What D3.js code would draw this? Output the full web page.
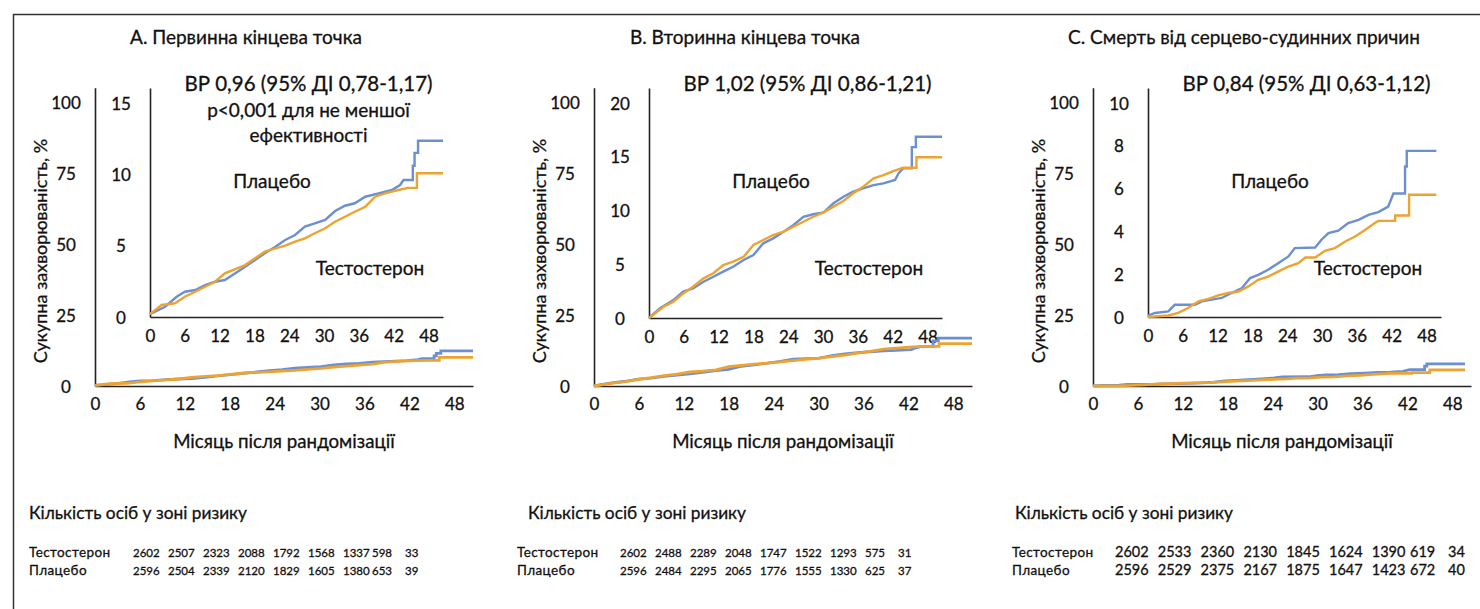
<!DOCTYPE html>
<html><head><meta charset="utf-8">
<script src="https://cdn.jsdelivr.net/npm/d3@7"></script>
<style>
body{margin:0;background:#fff}
text{font-family:Lato,'Noto Sans',sans-serif;fill:#111;stroke:#111;stroke-width:0.3px}
</style>
</head><body>
<svg id="chart" width="1480" height="609"></svg>
<script>
// ---------- DATA ----------
const monthTicks = [0, 6, 12, 18, 24, 30, 36, 42, 48];
const mainYTicks = [0, 25, 50, 75, 100];
const insetYTicks = [[0, 5, 10, 15], [0, 5, 10, 15, 20], [0, 2, 4, 6, 8, 10]];
const insetYMax = [16.05, 21.4, 10.7];
const panelTitles = ["А. Первинна кінцева точка", "В. Вторинна кінцева точка", "С. Смерть від серцево-судинних причин"];
const hrLines = [
  ["ВР 0,96 (95% ДІ 0,78-1,17)", "p<0,001 для не меншої", "ефективності"],
  ["ВР 1,02 (95% ДІ 0,86-1,21)"],
  ["ВР 0,84 (95% ДІ 0,63-1,12)"]
];
const seriesNames = ["Плацебо", "Тестостерон"];
const yLabel = "Сукупна захворюваність, %";
const xLabel = "Місяць після рандомізації";
const riskTitle = "Кількість осіб у зоні ризику";
const riskTesto = [
  [2602, 2507, 2323, 2088, 1792, 1568, 1337, 598, 33],
  [2602, 2488, 2289, 2048, 1747, 1522, 1293, 575, 31],
  [2602, 2533, 2360, 2130, 1845, 1624, 1390, 619, 34]
];
const riskPlacebo = [
  [2596, 2504, 2339, 2120, 1829, 1605, 1380, 653, 39],
  [2596, 2484, 2295, 2065, 1776, 1555, 1330, 625, 37],
  [2596, 2529, 2375, 2167, 1875, 1647, 1423, 672, 40]
];
// cumulative incidence (%) vs month
const placeboA = [[0,0.2],[2.6,0.72],[4.6,1.42],[6.0,1.77],[7.8,1.89],[9.5,2.24],[11.2,2.47],[12.9,2.59],[14.7,3.06],[16.4,3.53],[18.1,4.0],[19.8,4.46],[21.6,4.93],[23.3,5.4],[25.0,5.75],[26.7,6.33],[28.4,6.56],[30.2,6.8],[31.9,7.43],[33.6,7.8],[35.3,7.97],[37.1,8.43],[39.4,8.67],[41.7,8.9],[43.1,9.25],[43.7,9.6],[45.3,9.6],[45.3,10.6],[45.6,10.6],[45.6,11.5],[46.2,11.5],[46.2,12.35],[50.5,12.35]];
const testoA = [[0,0.2],[2.0,0.84],[4.3,0.96],[6.0,1.42],[7.8,1.77],[9.5,2.12],[11.2,2.47],[12.9,3.06],[14.7,3.36],[16.4,3.64],[18.1,4.11],[19.8,4.58],[21.6,4.81],[23.3,5.0],[25.0,5.28],[26.7,5.51],[28.4,5.87],[30.2,6.22],[31.9,6.68],[33.6,7.03],[35.3,7.38],[37.1,7.73],[38.8,8.43],[40.5,8.67],[42.8,8.9],[44.5,9.05],[46.0,9.05],[46.0,10.07],[50.5,10.07]];
const placeboB = [[0,0],[1.9,0.9],[4.2,1.67],[5.9,2.45],[7.6,2.76],[9.4,3.38],[11.1,3.84],[12.8,4.31],[14.5,4.77],[16.3,5.4],[18.0,5.86],[19.7,6.95],[21.4,7.41],[23.2,8.03],[24.9,8.65],[26.6,9.42],[28.3,9.65],[30.1,9.83],[31.8,10.67],[33.5,11.28],[35.2,11.75],[36.9,12.06],[38.7,12.37],[40.4,12.53],[42.4,12.84],[43.0,13.46],[43.8,13.92],[45.3,13.92],[45.3,15.9],[46.0,15.9],[46.0,16.87],[50.5,16.87]];
const testoB = [[0,0],[2.5,1.05],[4.2,1.52],[5.9,2.29],[7.6,2.91],[9.4,3.69],[11.1,4.16],[12.8,4.93],[14.5,5.24],[16.3,5.7],[18.0,6.79],[19.7,7.26],[21.4,7.72],[23.2,8.03],[24.9,8.49],[26.6,8.96],[28.3,9.42],[30.1,9.83],[31.8,10.36],[33.5,10.88],[35.2,11.6],[36.9,12.2],[38.7,13.0],[40.4,13.3],[42.1,13.67],[43.8,13.98],[46.1,13.98],[46.1,14.95],[50.5,14.95]];
const placeboC = [[0,0.07],[1.2,0.19],[3.5,0.26],[4.6,0.57],[8.1,0.57],[9.3,0.73],[11.0,0.81],[12.7,0.89],[14.4,1.12],[16.2,1.35],[17.6,1.82],[19.0,1.97],[20.7,2.21],[22.5,2.52],[24.2,2.83],[25.3,3.22],[28.8,3.25],[29.9,3.61],[31.1,3.92],[32.8,4.03],[34.5,4.39],[36.3,4.54],[38.0,4.77],[39.7,4.9],[41.4,5.16],[42.3,5.77],[44.3,5.77],[44.3,7.03],[44.6,7.03],[44.6,7.76],[49.7,7.76]];
const testoC = [[0,0],[3.5,0.07],[5.2,0.19],[6.9,0.42],[8.7,0.73],[10.4,0.85],[12.1,1.01],[13.8,1.12],[15.6,1.19],[17.3,1.43],[19.0,1.74],[20.7,1.89],[22.5,2.13],[24.2,2.36],[25.9,2.52],[27.1,2.78],[28.8,2.78],[30.5,3.09],[32.2,3.22],[34.0,3.53],[35.7,3.76],[37.4,4.07],[39.1,4.39],[39.7,4.49],[42.6,4.49],[42.6,4.74],[45.0,4.74],[45.0,5.71],[49.7,5.71]];
const placeboSeries = [placeboA, placeboB, placeboC];
const testoSeries = [testoA, testoB, testoC];

// ---------- STYLE / LAYOUT ----------
const COLORS = {placebo: "#6b8fd2", testo: "#eca332", axis: "#222"};
const panelDX = [0, 499, 998];
const riskHeadX = [29, 29, 17];
const riskLabelX = [29, 18, 14];
const riskCols = [
  {start: 133, step: 35, c8: 372, c9: 405, fs: 11.5},
  {start: 121, step: 35, c8: 366, c9: 399, fs: 11.5},
  {start: 117, step: 42.8, c8: 412, c9: 450, fs: 14.5}
];

const svg = d3.select("#chart");
svg.append("rect").attr("x", 13.5).attr("y", 14.5).attr("width", 1600).attr("height", 800)
  .attr("fill", "none").attr("stroke", "#333").attr("stroke-width", 1.5);

function styleAxis(g) {
  g.select(".domain").attr("stroke", COLORS.axis).attr("stroke-width", 1.6);
  g.selectAll(".tick line").remove();
  g.selectAll(".tick text").attr("font-size", 17).attr("fill", "#111")
    .style("font-family", "Lato, 'Noto Sans', sans-serif");
}

for (let i = 0; i < 3; i++) {
  const dx = panelDX[i];
  const g = svg.append("g");

  // main chart scales
  const xMain = d3.scaleLinear().domain([0, 50.5]).range([95 + dx, 473 + dx]);
  const yMain = d3.scaleLinear().domain([0, 105]).range([386, 87.8]);
  // inset scales
  const xIn = d3.scaleLinear().domain([0, 50.5]).range([150 + dx, 443 + dx]);
  const yIn = d3.scaleLinear().domain([0, insetYMax[i]]).range([317 + (i === 1 ? 1 : 0), 88]);

  // main axes
  const gy = g.append("g").attr("transform", `translate(${95 + dx},0)`)
    .call(d3.axisLeft(yMain).tickValues(mainYTicks).tickSize(0).tickSizeOuter(0));
  styleAxis(gy);
  gy.selectAll(".tick text").attr("text-anchor", "middle").attr("x", -29).attr("dy", "0.36em");

  const gx = g.append("g").attr("transform", `translate(0,386)`)
    .call(d3.axisBottom(xMain).tickValues(monthTicks).tickSize(0).tickSizeOuter(0));
  styleAxis(gx);
  gx.selectAll(".tick text").attr("y", 24).attr("dy", 0);

  // inset axes
  const giy = g.append("g").attr("transform", `translate(${150 + dx},0)`)
    .call(d3.axisLeft(yIn).tickValues(insetYTicks[i]).tickSize(0).tickSizeOuter(0));
  styleAxis(giy);
  giy.selectAll(".tick text").attr("text-anchor", "middle").attr("x", -29).attr("dy", "0.36em");

  const gix = g.append("g").attr("transform", `translate(0,${yIn(0)})`)
    .call(d3.axisBottom(xIn).tickValues(monthTicks).tickSize(0).tickSizeOuter(0));
  styleAxis(gix);
  gix.selectAll(".tick text").attr("y", 25).attr("dy", 0);

  // lines
  const lineMain = d3.line().x(d => xMain(d[0])).y(d => yMain(d[1]));
  const lineIn = d3.line().x(d => xIn(d[0])).y(d => yIn(d[1]));
  [[placeboSeries[i], COLORS.placebo], [testoSeries[i], COLORS.testo]].forEach(([data, col]) => {
    g.append("path").datum(data).attr("d", lineMain).attr("fill", "none")
      .attr("stroke", col).attr("stroke-width", 2.8).attr("stroke-linejoin", "miter");
  });
  [[placeboSeries[i], COLORS.placebo], [testoSeries[i], COLORS.testo]].forEach(([data, col]) => {
    g.append("path").datum(data).attr("d", lineIn).attr("fill", "none")
      .attr("stroke", col).attr("stroke-width", 2.4).attr("stroke-linejoin", "miter");
  });

  // titles and annotations
  g.append("text").attr("x", 246 + dx).attr("y", 44).attr("text-anchor", "middle")
    .attr("font-size", 19).text(panelTitles[i]);
  hrLines[i].forEach((t, k) => {
    g.append("text").attr("x", 308.5 + dx).attr("y", 91 + k * 25.5).attr("text-anchor", "middle")
      .attr("font-size", k === 0 ? 20.5 : 19).text(t);
  });
  g.append("text").attr("x", 272 + dx).attr("y", 188).attr("text-anchor", "middle")
    .attr("font-size", 19).text(seriesNames[0]);
  g.append("text").attr("x", 370 + dx).attr("y", 275).attr("text-anchor", "middle")
    .attr("font-size", 19).text(seriesNames[1]);

  // axis titles
  g.append("text").attr("transform", `translate(${47 + dx},251) rotate(-90)`)
    .attr("text-anchor", "middle").attr("font-size", 18).text(yLabel);
  g.append("text").attr("x", 284 + dx).attr("y", 448).attr("text-anchor", "middle")
    .attr("font-size", 18.7).text(xLabel);

  // risk table
  g.append("text").attr("x", riskHeadX[i] + dx).attr("y", 519).attr("font-size", 17.3).text(riskTitle);
  const rc = riskCols[i];
  const colX = k => dx + (k < 7 ? rc.start + k * rc.step : (k === 7 ? rc.c8 : rc.c9));
  [[seriesNames[1], riskTesto[i], 557], [seriesNames[0], riskPlacebo[i], 575]].forEach(([lab, vals, y]) => {
    g.append("text").attr("x", riskLabelX[i] + dx).attr("y", y).attr("font-size", 13.5)
      .attr("letter-spacing", 0.4).text(lab);
    vals.forEach((v, k) => {
      g.append("text").attr("x", colX(k)).attr("y", y).attr("font-size", rc.fs).text(v);
    });
  });
}
</script>
</body></html>
